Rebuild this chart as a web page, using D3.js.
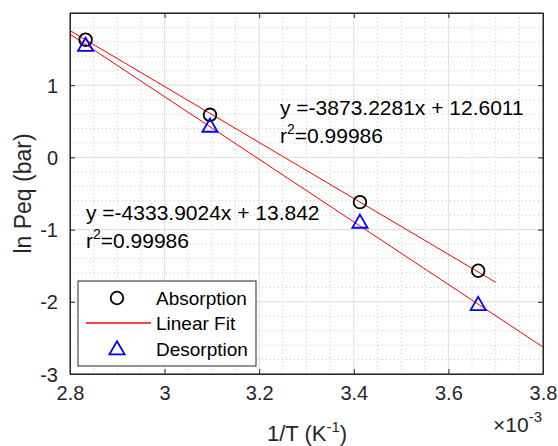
<!DOCTYPE html>
<html><head><meta charset="utf-8">
<script src="https://cdn.jsdelivr.net/npm/d3@7"></script>
<style>body{margin:0;background:#fff;} text{font-family:"Liberation Sans",Arial,sans-serif;}</style>
</head><body><svg id="c" width="558" height="446"></svg>
<script>
// data (x in units of 1e-3 K^-1)
const invT = [2.833, 3.096, 3.413, 3.663];
const absorption = [1.63, 0.59, -0.62, -1.57];
const desorption = [1.55, 0.43, -0.90, -2.04];
const fitAbs = {slope: -3873.2281, intercept: 12.6011, x0: 2.8, x1: 3.7};
const fitDes = {slope: -4333.9024, intercept: 13.842, x0: 2.8, x1: 3.8};
const xTicks = [2.8, 3.0, 3.2, 3.4, 3.6, 3.8];
const xTickLabels = ["2.8", "3", "3.2", "3.4", "3.6", "3.8"];
const yTicks = [-3, -2, -1, 0, 1];
const yTickLabels = ["-3", "-2", "-1", "0", "1"];

const svg = d3.select("#c");
const L = 70, R = 543, T = 13, B = 374;
const x = d3.scaleLinear().domain([2.8, 3.8]).range([L, R]);
const y = d3.scaleLinear().domain([-3, 2]).range([B, T]);
const axisCol = "#262626";

// minor grid
const g = svg.append("g");
const xMinor = d3.range(2.8, 3.8001, 0.05).filter(v => Math.abs(Math.round(v*5) - v*5) > 1e-6);
const yMinor = d3.range(-3, 2.0001, 0.2).filter(v => Math.abs(Math.round(v) - v) > 1e-6);
g.selectAll(".xm").data(xMinor).join("line")
  .attr("x1", d => x(d)).attr("x2", d => x(d)).attr("y1", T).attr("y2", B)
  .attr("stroke", "#c8c8c8").attr("stroke-width", 1).attr("stroke-dasharray", "1,3");
g.selectAll(".ym").data(yMinor).join("line")
  .attr("y1", d => y(d)).attr("y2", d => y(d)).attr("x1", L).attr("x2", R)
  .attr("stroke", "#c8c8c8").attr("stroke-width", 1).attr("stroke-dasharray", "1,3");
// major grid
g.selectAll(".xg").data(xTicks).join("line")
  .attr("x1", d => x(d)).attr("x2", d => x(d)).attr("y1", T).attr("y2", B)
  .attr("stroke", "#dedede").attr("stroke-width", 1);
g.selectAll(".yg").data(yTicks.concat([2])).join("line")
  .attr("y1", d => y(d)).attr("y2", d => y(d)).attr("x1", L).attr("x2", R)
  .attr("stroke", "#dedede").attr("stroke-width", 1);

// axes with inner ticks
const xb = svg.append("g").attr("transform", `translate(0,${B})`)
  .call(d3.axisBottom(x).tickValues(xTicks).tickFormat((d,i) => xTickLabels[i]).tickSizeInner(-5).tickSizeOuter(0).tickPadding(12));
const xt = svg.append("g").attr("transform", `translate(0,${T})`)
  .call(d3.axisTop(x).tickValues(xTicks).tickFormat("").tickSizeInner(-5).tickSizeOuter(0));
const yl = svg.append("g").attr("transform", `translate(${L},0)`)
  .call(d3.axisLeft(y).tickValues(yTicks).tickFormat((d,i) => yTickLabels[i]).tickSizeInner(-5).tickSizeOuter(0).tickPadding(12));
const yr = svg.append("g").attr("transform", `translate(${R},0)`)
  .call(d3.axisRight(y).tickValues(yTicks).tickFormat("").tickSizeInner(-5).tickSizeOuter(0));
[xb, xt, yl, yr].forEach(a => {
  a.selectAll("path").attr("stroke", axisCol);
  a.selectAll("line").attr("stroke", axisCol);
  a.selectAll("text").attr("fill", axisCol).style("font-size", "20px").style("font-family", "Liberation Sans, Arial, sans-serif");
});
yl.selectAll("text").attr("dy", "0.35em");
// box frame
svg.append("rect").attr("x", L).attr("y", T).attr("width", R-L).attr("height", B-T)
  .attr("fill", "none").attr("stroke", axisCol).attr("stroke-width", 1);

// fit lines
const line = d3.line().x(d => x(d[0])).y(d => y(d[1]));
[fitAbs, fitDes].forEach(f => {
  const pts = [f.x0, f.x1].map(v => [v, f.slope * v * 1e-3 + f.intercept]);
  svg.append("path").attr("d", line(pts)).attr("stroke", "#ff0000").attr("stroke-width", 1).attr("fill", "none");
});

// markers
svg.selectAll(".abs").data(invT).join("circle")
  .attr("cx", d => x(d)).attr("cy", (d,i) => y(absorption[i])).attr("r", 6.3)
  .attr("fill", "none").attr("stroke", "#000").attr("stroke-width", 1.8);
const tri = d3.symbol().type(d3.symbolTriangle).size(100);
svg.selectAll(".des").data(invT).join("path")
  .attr("d", tri).attr("transform", (d,i) => `translate(${x(d)},${y(desorption[i]) + 1})`)
  .attr("fill", "none").attr("stroke", "#0000ff").attr("stroke-width", 1.8);

// annotations
function eqText(px, py, f) {
  svg.append("text").attr("x", px).attr("y", py).style("font-size", "21px").attr("fill", "#000")
    .text(`y =${f.slope}x + ${f.intercept}`);
  const t = svg.append("text").attr("x", px).attr("y", py + 28).style("font-size", "21px").attr("fill", "#000");
  t.append("tspan").text("r");
  t.append("tspan").attr("dy", -9).style("font-size", "14px").text("2");
  t.append("tspan").attr("dy", 9).text("=0.99986");
}
eqText(280, 115, fitAbs);
eqText(86, 220, fitDes);

// legend
const lg = svg.append("g");
lg.append("rect").attr("x", 78).attr("y", 281).attr("width", 178).attr("height", 85)
  .attr("fill", "#fff").attr("stroke", axisCol).attr("stroke-width", 1);
const legendItems = ["Absorption", "Linear Fit", "Desorption"];
const rowsY = [298, 323, 349];
lg.append("circle").attr("cx", 117).attr("cy", rowsY[0]).attr("r", 6.3).attr("fill", "none").attr("stroke", "#000").attr("stroke-width", 1.8);
lg.append("line").attr("x1", 86).attr("x2", 151).attr("y1", rowsY[1]).attr("y2", rowsY[1]).attr("stroke", "#ff0000").attr("stroke-width", 1.5);
lg.append("path").attr("d", tri).attr("transform", `translate(117,${rowsY[2]+1})`).attr("fill", "none").attr("stroke", "#0000ff").attr("stroke-width", 1.8);
lg.selectAll(".lt").data(legendItems).join("text")
  .attr("x", 156).attr("y", (d,i) => rowsY[i]).attr("dy", "0.35em")
  .style("font-size", "19px").attr("fill", "#000").text(d => d);

// axis labels
const xl = svg.append("text").attr("x", 307).attr("y", 441).attr("text-anchor", "middle").style("font-size", "22px").attr("fill", axisCol);
xl.append("tspan").text("1/T (K");
xl.append("tspan").attr("dy", -9).style("font-size", "15px").text("-1");
xl.append("tspan").attr("dy", 9).text(")");
svg.append("text").attr("transform", `translate(31,${(T+B)/2}) rotate(-90)`).attr("text-anchor", "middle")
  .style("font-size", "23px").attr("fill", axisCol).text("ln Peq (bar)");
const ex = svg.append("text").attr("x", 542).attr("y", 432).attr("text-anchor", "end").style("font-size", "21px").attr("fill", axisCol);
ex.append("tspan").text("×10");
ex.append("tspan").attr("dy", -10).style("font-size", "15px").text("-3");
</script></body></html>
